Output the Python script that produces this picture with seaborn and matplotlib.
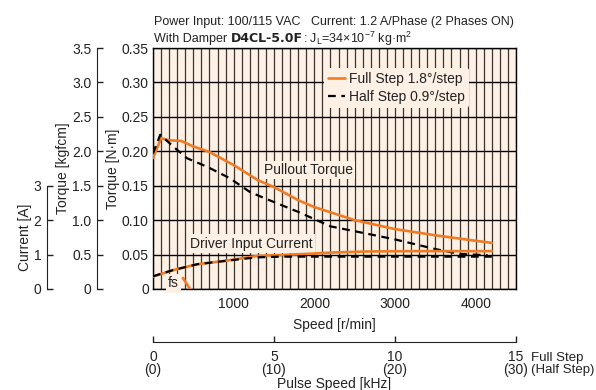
import numpy as np
import pandas as pd
import matplotlib
matplotlib.use("Agg")
import matplotlib.pyplot as plt
import seaborn as sns
from matplotlib.ticker import MultipleLocator, FixedLocator

# pullout torque [N·m] vs speed [r/min]
speed_full = [0, 100, 200, 350, 500, 700, 1000, 1300, 1500, 1800, 2000, 2500, 3000, 3500, 4000, 4200]
torque_full = [0.190, 0.219, 0.216, 0.215, 0.207, 0.199, 0.180, 0.158, 0.148, 0.129, 0.119, 0.100, 0.087, 0.078, 0.070, 0.067]
speed_half = [0, 90, 250, 420, 680, 950, 1200, 1400, 1800, 2200, 2750, 3000, 3500, 3800, 4150]
torque_half = [0.197, 0.224, 0.207, 0.190, 0.177, 0.161, 0.141, 0.131, 0.112, 0.091, 0.078, 0.072, 0.058, 0.051, 0.049]

# driver input current [A]
cur_speed_full = [0, 250, 550, 870, 1290, 1820, 2230, 2650, 3200, 4200]
current_full = [0.36, 0.55, 0.72, 0.81, 0.96, 1.01, 1.06, 1.09, 1.10, 1.10]
cur_speed_half = [0, 250, 550, 870, 1290, 1600, 2200, 3000, 4200]
current_half = [0.37, 0.55, 0.72, 0.81, 0.92, 0.94, 0.94, 0.94, 0.94]

# starting frequency marker
fs_speed = [370, 460]
fs_torque = [0.016, 0.0]

speed_ticks = [1000, 2000, 3000, 4000]
nm_ticks = [0, 0.05, 0.10, 0.15, 0.20, 0.25, 0.30, 0.35]
nm_labels = ["0", "0.05", "0.10", "0.15", "0.20", "0.25", "0.30", "0.35"]
kgf_ticks = [0, 0.5, 1.0, 1.5, 2.0, 2.5, 3.0, 3.5]
kgf_labels = ["0", "0.5", "1.0", "1.5", "2.0", "2.5", "3.0", "3.5"]
cur_ticks = [0, 1, 2, 3]
khz_ticks = [0, 5, 10, 15]
khz_labels = ["0\n(0)", "5\n(10)", "10\n(20)", "15\n(30)"]

ORANGE = "#ef7b24"
BG = "#fdf1e6"
FS = 9
LS = 10  # tick / label size

sns.set_style("white")
plt.rcParams["font.family"] = ["Liberation Sans", "DejaVu Sans"]
plt.rcParams["font.size"] = FS
plt.rcParams["text.color"] = "#222222"
plt.rcParams["axes.labelcolor"] = "#222222"
plt.rcParams["xtick.color"] = "#222222"
plt.rcParams["ytick.color"] = "#222222"

fig = plt.figure(figsize=(5.96, 3.90), dpi=100)
ax = fig.add_axes([153 / 596, 101 / 390, 363 / 596, 241 / 390])
ax.set_facecolor(BG)

df_full = pd.DataFrame({"speed": speed_full, "torque": torque_full})
df_half = pd.DataFrame({"speed": speed_half, "torque": torque_half})
sns.lineplot(data=df_full, x="speed", y="torque", ax=ax, color=ORANGE, lw=1.9,
             label="Full Step 1.8°/step", zorder=4)
sns.lineplot(data=df_half, x="speed", y="torque", ax=ax, color="black", lw=1.6,
             label="Half Step 0.9°/step", zorder=4)
ax.lines[-1].set_dashes((3.5, 2.5))
sns.lineplot(x=fs_speed, y=fs_torque, ax=ax, color=ORANGE, lw=1.9, zorder=4)

ax.set_xlim(0, 4500)
ax.set_ylim(0, 0.35)
ax.xaxis.set_major_locator(FixedLocator(speed_ticks))
ax.xaxis.set_minor_locator(MultipleLocator(100))
ax.yaxis.set_major_locator(FixedLocator(nm_ticks))
ax.set_yticklabels(nm_labels)
ax.grid(True, which="both", axis="x", color="#3e342d", lw=0.9)
ax.grid(True, which="major", axis="y", color="black", lw=1.0)
ax.set_axisbelow(True)
ax.tick_params(axis="y", which="both", length=0, pad=3, labelsize=LS)
ax.tick_params(axis="x", which="both", length=0, pad=6, labelsize=LS)
for s in ax.spines.values():
    s.set_color("black")
    s.set_linewidth(1.0)
ax.set_xlabel("Speed [r/min]", labelpad=5, fontsize=LS)
ax.set_ylabel("Torque [N·m]", fontsize=LS)
ax.yaxis.set_label_coords(-33 / 363, 0.5)

# kgfcm axis
ax_kgf = ax.twinx()
ax_kgf.set_ylim(0, 3.5)
ax_kgf.yaxis.set_ticks_position("left")
ax_kgf.yaxis.set_label_position("left")
ax_kgf.spines["left"].set_position(("axes", -56 / 363))
for side in ["right", "top", "bottom"]:
    ax_kgf.spines[side].set_visible(False)
ax_kgf.spines["left"].set_color("#222222")
ax_kgf.set_yticks(kgf_ticks)
ax_kgf.set_yticklabels(kgf_labels)
ax_kgf.tick_params(axis="y", direction="in", length=4, width=1, pad=4, labelsize=LS)
ax_kgf.set_ylabel("Torque [kgfcm]", fontsize=LS)
ax_kgf.yaxis.set_label_coords(-83 / 363, 0.5)

# current axis
ax_cur = ax.twinx()
ax_cur.set_ylim(0, 7)
ax_cur.yaxis.set_ticks_position("left")
ax_cur.yaxis.set_label_position("left")
ax_cur.spines["left"].set_position(("axes", -106 / 363))
ax_cur.spines["left"].set_bounds(0, 3)
for side in ["right", "top", "bottom"]:
    ax_cur.spines[side].set_visible(False)
ax_cur.spines["left"].set_color("#222222")
ax_cur.set_yticks(cur_ticks)
ax_cur.tick_params(axis="y", direction="in", length=4, width=1, pad=4, labelsize=LS)
ax_cur.set_ylabel("Current [A]", fontsize=LS)
ax_cur.yaxis.set_label_coords(-121 / 363, 1.5 / 7)

df_cf = pd.DataFrame({"speed": cur_speed_full, "current": current_full})
df_ch = pd.DataFrame({"speed": cur_speed_half, "current": current_half})
sns.lineplot(data=df_cf, x="speed", y="current", ax=ax_cur, color=ORANGE, lw=1.9)
sns.lineplot(data=df_ch, x="speed", y="current", ax=ax_cur, color="black", lw=1.6)
ax_cur.lines[-1].set_dashes((3.5, 2.5))

# text labels on the chart
box = dict(facecolor=BG, edgecolor="none", pad=1.5)
ax.text(1380, 0.173, "Pullout Torque", fontsize=LS, va="center", ha="left", bbox=box, zorder=5)
ax.text(460, 0.066, "Driver Input Current", fontsize=LS, va="center", ha="left", bbox=box, zorder=5)
ax.text(250, 0.008, "fs", fontsize=LS, va="center", ha="center", bbox=box, zorder=5)

leg = ax.legend(loc="upper right", bbox_to_anchor=(0.878, 0.93), frameon=True,
                facecolor=BG, edgecolor="none", framealpha=1, fontsize=LS,
                handlelength=1.2, handletextpad=0.3, borderpad=0.3, labelspacing=0.3,
                borderaxespad=0.2)
leg.set_zorder(6)

# pulse speed axis
sec = ax.secondary_xaxis(-53 / 241, functions=(lambda s: s / 300, lambda k: k * 300))
sec.set_xticks(khz_ticks)
sec.set_xticklabels(khz_labels, linespacing=0.85)
sec.tick_params(axis="x", direction="in", length=4, width=1, pad=6, labelsize=LS)
sec.spines["bottom"].set_color("#222222")
sec.set_xlabel("Pulse Speed [kHz]", labelpad=0, fontsize=LS)
fig.text(531 / 596, 1 - 364 / 390, "Full Step\n(Half Step)", fontsize=9.5,
         ha="left", va="center", linespacing=0.9)

# header
fig.text(154 / 596, 1 - 22 / 390, "Power Input: 100/115 VAC   Current: 1.2 A/Phase (2 Phases ON)",
         fontsize=FS, ha="left", va="center")
t1 = fig.text(154 / 596, 1 - 39 / 390, "With Damper ", fontsize=FS, ha="left", va="center")
fig.canvas.draw()
r = fig.canvas.get_renderer()
x1 = t1.get_window_extent(r).x1
t2 = fig.text(x1 / fig.bbox.width, 1 - 39 / 390, "D4CL-5.0F", fontsize=FS, fontweight="bold",
              family=["DejaVu Sans"], ha="left", va="center")
x2 = t2.get_window_extent(r).x1
fig.text(x2 / fig.bbox.width, 1 - 39 / 390,
         r": J$_\mathregular{L}$=34×10$^\mathregular{-7}$ kg·m$^\mathregular{2}$",
         fontsize=FS, ha="left", va="center")

fig.savefig("out.png", dpi=100)
